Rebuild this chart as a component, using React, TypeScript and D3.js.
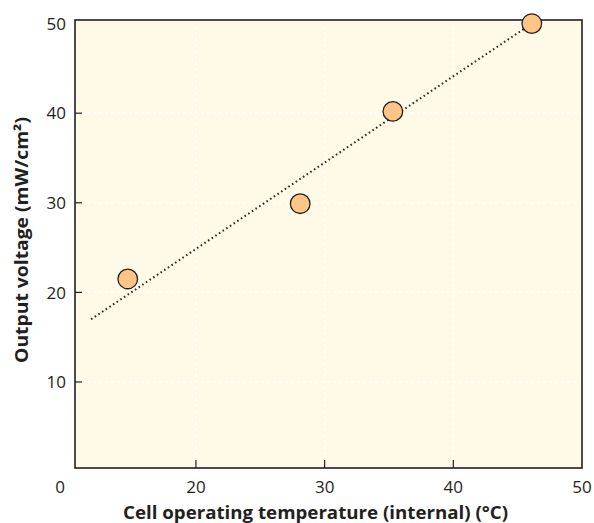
import React from 'react';
import * as d3 from 'd3';

// measured points: cell temperature (°C) vs output (mW/cm²)
const temps = [14.7, 28.1, 35.3, 46.1];
const outputs = [21.5, 29.9, 40.2, 50];

// dotted trend line end points
const trendTemps = [11.85, 46.1];
const trendOutputs = [17.0, 50];

const xTicks = [20, 30, 40, 50];
const yTicks = [10, 20, 30, 40, 50];
const originLabel = '0';

const App = () => {
  const width = 594, height = 523;
  const margin = {top: 20, right: 12, bottom: 55, left: 75};
  const w = width - margin.left - margin.right;
  const h = height - margin.top - margin.bottom;

  const x = d3.scaleLinear().domain([10.6, 50]).range([0, w]);
  const y = d3.scaleLinear().domain([0.4, 50.4]).range([h, 0]);

  const trend = d3.line<number>()
    .x((d, i) => x(trendTemps[i]))
    .y((d) => y(d));

  const font = '"Open Sans", "Noto Sans", sans-serif';
  const ink = '#231f20';

  return (
    <svg width={width} height={height} style={{position: 'absolute', left: 0, top: 0}} fontFamily={font}>
      <g transform={'translate(' + margin.left + ',' + margin.top + ')'}>
        <rect x={0} y={0} width={w} height={h} fill="#fffae8" />

        {/* faint white dashed grid */}
        {xTicks.filter(t => t < 50).map(t => (
          <line key={'gx' + t} x1={x(t)} x2={x(t)} y1={0} y2={h} stroke="#ffffff" strokeWidth={1.2} strokeDasharray="3,3" />
        ))}
        {yTicks.filter(t => t < 50).map(t => (
          <line key={'gy' + t} x1={0} x2={w} y1={y(t)} y2={y(t)} stroke="#ffffff" strokeWidth={1.2} strokeDasharray="3,3" />
        ))}

        <rect x={0} y={0} width={w} height={h} fill="none" stroke={ink} strokeWidth={1.6} />

        {/* inward tick marks */}
        {xTicks.filter(t => t < 50).map(t => (
          <line key={'tx' + t} x1={x(t)} x2={x(t)} y1={h} y2={h - 8} stroke={ink} strokeWidth={1.2} />
        ))}
        {yTicks.filter(t => t < 50).map(t => (
          <line key={'ty' + t} x1={0} x2={7} y1={y(t)} y2={y(t)} stroke={ink} strokeWidth={1.2} />
        ))}

        <path d={trend(trendOutputs) || ''} fill="none" stroke="#2b2b2b" strokeWidth={2} strokeDasharray="1.6,2.8" />

        {temps.map((t, i) => (
          <circle key={i} cx={x(t)} cy={y(outputs[i])} r={9.8} fill="#fec587" stroke={ink} strokeWidth={1.3} />
        ))}

        {xTicks.map(t => (
          <text key={'lx' + t} x={x(t)} y={h + 25} textAnchor="middle" fontSize={17} fill={ink}>{t}</text>
        ))}
        <text x={-15} y={h + 25} textAnchor="middle" fontSize={17} fill={ink}>{originLabel}</text>
        {yTicks.map(t => (
          <text key={'ly' + t} x={-9} y={y(t)} dy="0.36em" textAnchor="end" fontSize={17} fill={ink}>{t}</text>
        ))}

        <text x={w / 2 - 13} y={h + 51} textAnchor="middle" fontSize={17.5} fontWeight="bold" fill={ink}
          textLength={385} lengthAdjust="spacingAndGlyphs">
          Cell operating temperature (internal) (°C)
        </text>
        <text transform={'translate(' + (-47) + ',' + (h / 2 - 4) + ') rotate(-90)'} textAnchor="middle" fontSize={17.5} fontWeight="bold" fill={ink}
          textLength={246} lengthAdjust="spacingAndGlyphs">
          Output voltage (mW/cm²)
        </text>
      </g>
    </svg>
  );
};

export default App;
